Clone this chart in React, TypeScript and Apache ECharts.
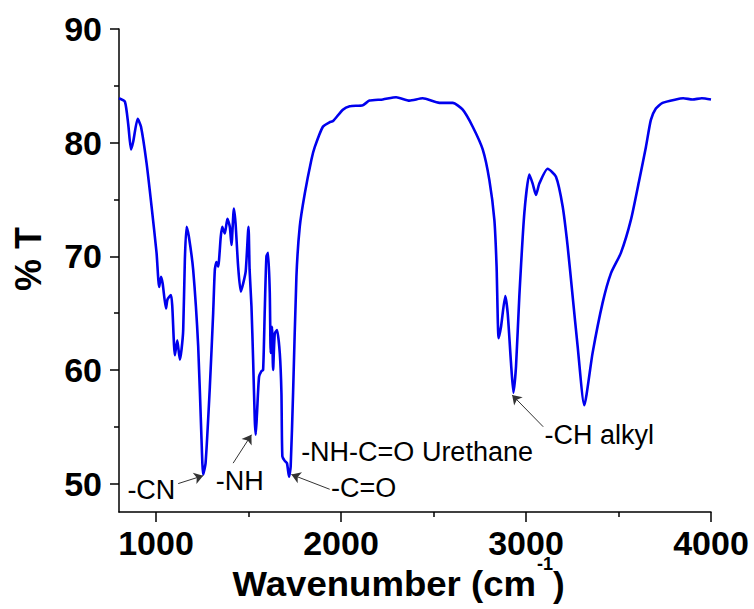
import React, { useEffect, useRef } from "react";
import * as echarts from "echarts";

// Wavenumber (cm-1) and % transmittance
const wavenumbers = [
  800, 832, 850, 865, 877, 901, 919, 949, 976, 1003, 1017, 1027, 1036, 1054, 1062, 1081, 1088,
  1102, 1115, 1129, 1138, 1147, 1156, 1165, 1178, 1201, 1228, 1246, 1255, 1268, 1291, 1309,
  1318, 1327, 1336, 1350, 1358, 1372, 1386, 1399, 1408, 1421, 1430, 1444, 1458, 1471, 1485,
  1500, 1506, 1516, 1525, 1534, 1539, 1546, 1557, 1570, 1579, 1588, 1597, 1606, 1615, 1620,
  1627, 1633, 1642, 1654, 1669, 1678, 1683, 1696, 1708, 1719, 1728, 1741, 1759, 1777, 1804,
  1840, 1858, 1902, 1939, 1957, 2010, 2047, 2118, 2154, 2226, 2298, 2370, 2442, 2532, 2604,
  2658, 2712, 2766, 2802, 2829, 2841, 2852, 2865, 2888, 2901, 2919, 2932, 2946, 2964, 2991,
  3018, 3036, 3054, 3072, 3117, 3162, 3198, 3225, 3252, 3279, 3315, 3360, 3414, 3459, 3513,
  3567, 3612, 3648, 3675, 3702, 3738, 3810, 3850, 3900, 3950, 4000,
];
const transmittance = [
  83.9, 83.6, 81.6, 79.4, 80.1, 82.1, 81.4, 78.2, 74.4, 70.3, 67.3, 68.2, 67.6, 65.4, 66.2, 66.6, 65.6,
  61.3, 62.6, 60.9, 61.8, 63.5, 69.7, 72.6, 71.7, 68.8, 62.1, 53.9, 50.8, 51.8, 58.5, 65.0,
  68.8, 69.5, 69.1, 71.7, 72.6, 72.0, 73.3, 72.6, 71.0, 74.2, 72.9, 69.1, 66.9, 67.6, 68.7,
  72.6, 68.8, 65.6, 60.9, 55.6, 54.3, 56.2, 59.4, 59.9, 60.0, 65.3, 70.0, 70.3, 66.8, 61.5,
  63.8, 60.0, 63.2, 63.5, 61.5, 58.0, 52.4, 52.0, 51.8, 50.6, 51.5, 58.0, 68.2, 72.6, 75.5,
  78.5, 79.6, 81.4, 81.8, 81.9, 82.9, 83.2, 83.3, 83.7, 83.8, 84.0, 83.7, 83.9, 83.5, 83.5,
  82.9, 81.4, 79.4, 76.7, 73.2, 69.1, 62.8, 63.8, 66.5, 65.0, 60.6, 58.0, 60.3, 66.5, 73.8,
  77.2, 76.4, 75.4, 76.4, 77.7, 77.0, 74.4, 70.9, 66.5, 62.1, 56.9, 61.5, 65.9, 68.5, 70.3,
  73.2, 76.7, 79.6, 82.0, 83.0, 83.5, 83.8, 83.9, 83.8, 83.9, 83.8,
];

const xMajorTicks = [1000, 2000, 3000, 4000];
const xMinorTicks = [1500, 2500, 3500];
const yMajorTicks = [50, 60, 70, 80, 90];
const yMinorTicks = [55, 65, 75, 85];

// Peak annotations
const annotationLabels = ["-CN", "-NH", "-NH-C=O Urethane", "-C=O", "-CH alkyl"];
const annotationX = [975, 1453, 2411, 2122, 3396];
const annotationY = [49.4, 50.2, 52.8, 49.6, 54.3];

// Arrows: from label to peak
const arrowFromX = [1120, 1417, 1939, 3093];
const arrowFromY = [50.0, 51.8, 49.5, 55.0];
const arrowToX = [1255, 1516, 1732, 2925];
const arrowToY = [50.7, 54.3, 50.8, 57.8];

const FONT = "'Liberation Sans', Arial, Helvetica, sans-serif";

export default function App() {
  const ref = useRef<HTMLDivElement>(null);

  useEffect(() => {
    document.body.style.margin = "0";
    if (!ref.current) return;
    const chart = echarts.init(ref.current, undefined, { renderer: "svg" });

    const seriesData = wavenumbers.map((w, i) => [w, transmittance[i]]);
    const markPoints = annotationLabels.map((name, i) => ({
      name,
      coord: [annotationX[i], annotationY[i]],
    }));
    const markLines = arrowFromX.map((x, i) => [
      { coord: [x, arrowFromY[i]] },
      { coord: [arrowToX[i], arrowToY[i]] },
    ]);

    const grid = { left: 119, right: 43, top: 29, bottom: 97 };
    const plain = (v: number) => String(v);

    chart.setOption({
      animation: false,
      backgroundColor: "#ffffff",
      grid,
      xAxis: [
        {
          type: "value",
          min: 800,
          max: 4000,
          position: "bottom",
          axisLine: { show: true, lineStyle: { color: "#000", width: 1.5 } },
          axisTick: {
            show: true,
            customValues: xMajorTicks,
            length: 10,
            lineStyle: { color: "#000", width: 1.5 },
          },
          axisLabel: {
            show: true,
            customValues: xMajorTicks,
            formatter: plain,
            fontSize: 34,
            lineHeight: 26,
            fontWeight: "bold",
            fontFamily: FONT,
            color: "#000",
            margin: 18,
          },
          splitLine: { show: false },
        },
        {
          type: "value",
          min: 800,
          max: 4000,
          position: "bottom",
          axisLine: { show: false },
          axisTick: {
            show: true,
            customValues: xMinorTicks,
            length: 5,
            lineStyle: { color: "#000", width: 1.5 },
          },
          axisLabel: { show: false },
          splitLine: { show: false },
        },
      ],
      yAxis: [
        {
          type: "value",
          min: 47.5,
          max: 90,
          position: "left",
          axisLine: { show: true, lineStyle: { color: "#000", width: 1.5 } },
          axisTick: {
            show: true,
            customValues: yMajorTicks,
            length: 9,
            lineStyle: { color: "#000", width: 1.5 },
          },
          axisLabel: {
            show: true,
            customValues: yMajorTicks,
            formatter: plain,
            fontSize: 34,
            fontWeight: "bold",
            fontFamily: FONT,
            color: "#000",
            margin: 17,
          },
          splitLine: { show: false },
        },
        {
          type: "value",
          min: 47.5,
          max: 90,
          position: "left",
          axisLine: { show: false },
          axisTick: {
            show: true,
            customValues: yMinorTicks,
            length: 5,
            lineStyle: { color: "#000", width: 1.5 },
          },
          axisLabel: { show: false },
          splitLine: { show: false },
        },
      ],
      series: [
        {
          type: "line",
          data: seriesData,
          xAxisIndex: 0,
          yAxisIndex: 0,
          showSymbol: false,
          symbol: "none",
          smooth: 0.2,
          lineStyle: { color: "#0000ee", width: 2.6 },
          markPoint: {
            symbol: "circle",
            symbolSize: 1,
            itemStyle: { color: "rgba(0,0,0,0)" },
            silent: true,
            label: {
              show: true,
              position: "inside",
              formatter: (p: any) => p.name,
              color: "#000",
              fontSize: 27,
              fontFamily: FONT,
            },
            data: markPoints,
          },
          markLine: {
            silent: true,
            symbol: ["none", "arrow"],
            symbolSize: 9,
            label: { show: false },
            lineStyle: { color: "#333", width: 1, type: "solid" },
            data: markLines,
          },
        },
      ],
      graphic: [
        {
          type: "text",
          x: 28,
          y: 259,
          rotation: Math.PI / 2,
          style: {
            text: "% T",
            font: `bold 36px ${FONT}`,
            fill: "#000",
            textAlign: "center",
            textVerticalAlign: "middle",
          },
        },
        {
          type: "text",
          x: 536,
          y: 567,
          scaleX: 1.045,
          style: {
            text: "Wavenumber (cm",
            font: `bold 35px ${FONT}`,
            fill: "#000",
            textAlign: "right",
            textVerticalAlign: "top",
          },
        },
        {
          type: "text",
          x: 537,
          y: 557,
          style: {
            text: "-1",
            font: `bold 18px ${FONT}`,
            lineHeight: 14,
            fill: "#000",
            textAlign: "left",
            textVerticalAlign: "top",
          },
        },
        {
          type: "text",
          x: 553,
          y: 567,
          style: {
            text: ")",
            font: `bold 35px ${FONT}`,
            fill: "#000",
            textAlign: "left",
            textVerticalAlign: "top",
          },
        },
      ],
    });

    return () => chart.dispose();
  }, []);

  return <div ref={ref} style={{ width: 754, height: 609 }} />;
}
